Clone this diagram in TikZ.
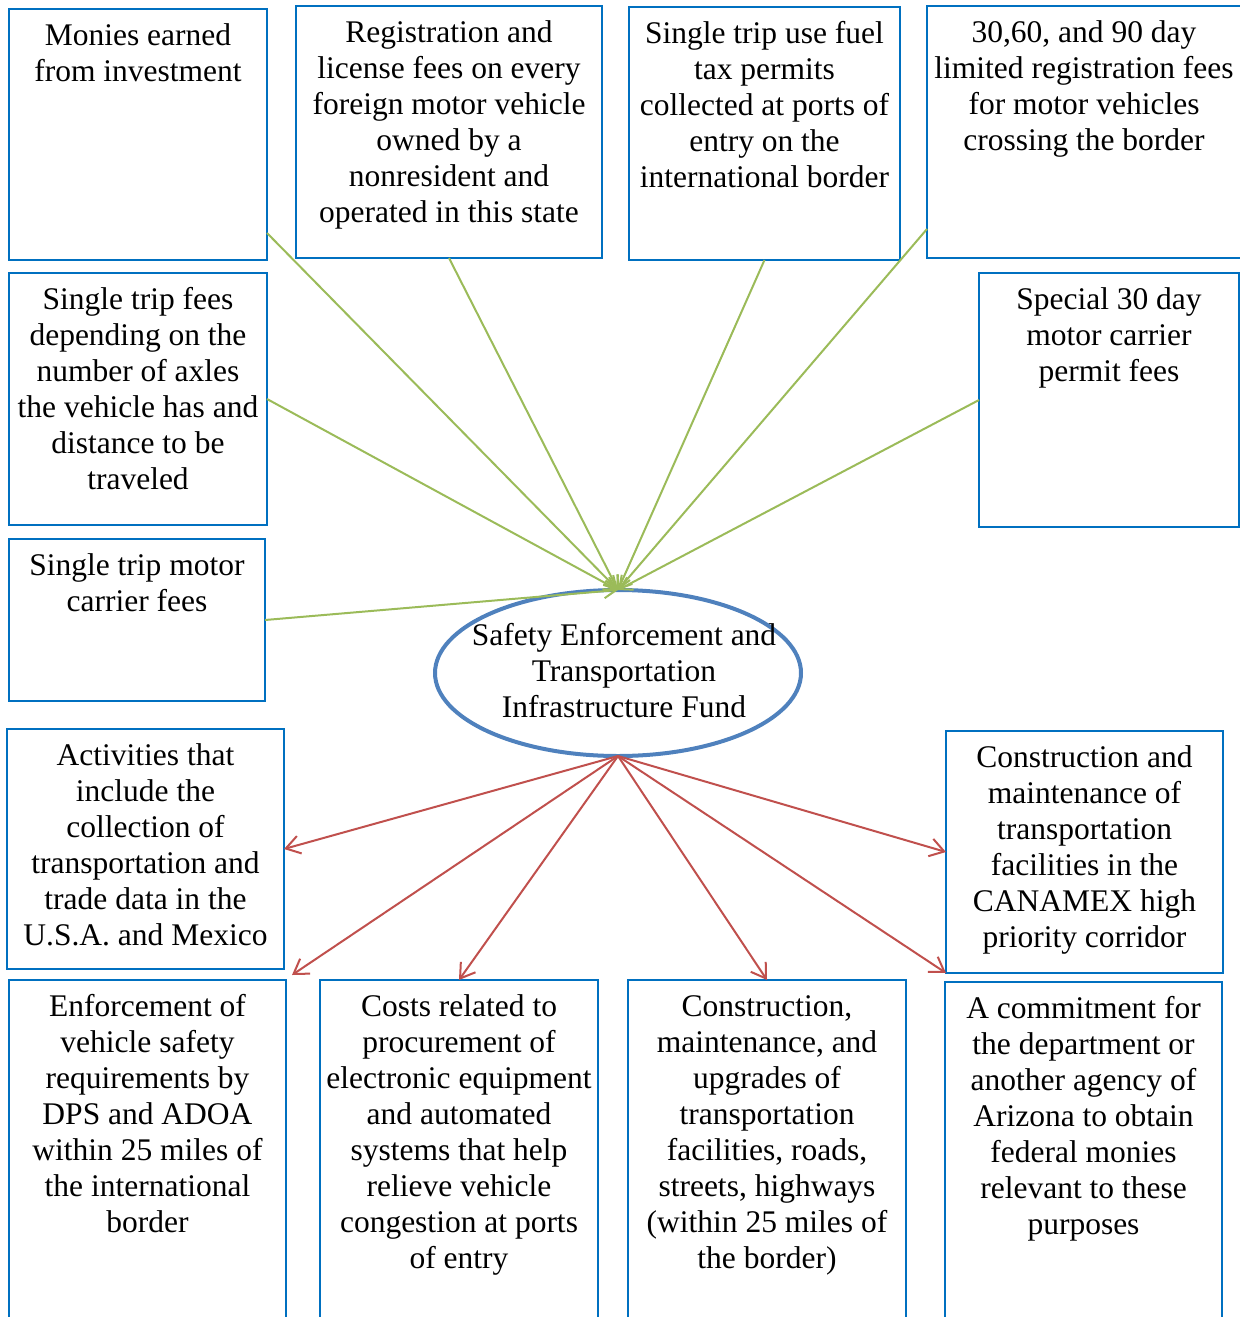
\documentclass[tikz,border=0pt]{standalone}
\usepackage{fontspec}
\setmainfont{Liberation Serif}
\usepackage{tikz}
\usetikzlibrary{shapes.geometric,arrows.meta}

\definecolor{boxblue}{HTML}{0070C0}
\definecolor{ellblue}{HTML}{4F81BD}
\definecolor{ingreen}{HTML}{9BBB59}
\definecolor{outred}{HTML}{C0504D}

\newcommand{\boxtext}[3]{\parbox[t][#2][t]{#1}{\centering\rule{0pt}{18pt}#3}}

\begin{document}
\begin{tikzpicture}[x=0.5pt,y=-0.5pt,font=\fontsize{15.75}{18}\selectfont,
    fundbox/.style={draw=boxblue,line width=1.1pt,inner sep=0pt,outer sep=0pt,anchor=north west},
    fundell/.style={ellipse,draw=ellblue,line width=2pt,inner sep=0pt,outer sep=0pt,minimum width=183pt,minimum height=83pt},
    inline/.style={draw=ingreen,line width=1pt,-{Straight Barb[length=6pt,width=7pt]}},
    outline/.style={draw=outred,line width=1pt,-{Straight Barb[length=7pt,width=9pt]}}]
    \useasboundingbox (0,0) rectangle (1240,1317);

    % sources of money
    \node[fundbox] (s1) at (9,9) {\boxtext{129pt}{125.5pt}{Monies earned\\from investment}};
    \node[fundbox] (s2) at (296,6) {\boxtext{153pt}{126pt}{Registration and\\license fees on every\\foreign motor vehicle\\owned by a\\nonresident and\\operated in this state}};
    \node[fundbox] (s3) at (629,7) {\boxtext{135.5pt}{126.5pt}{Single trip use fuel\\tax permits\\collected at ports of\\entry on the\\international border}};
    \node[fundbox] (s4) at (927,6) {\boxtext{157pt}{126pt}{30,60, and 90 day\\limited registration fees\\for motor vehicles\\crossing the border}};
    \node[fundbox] (s5) at (9,273) {\boxtext{129pt}{126pt}{Single trip fees\\depending on the\\number of axles\\the vehicle has and\\distance to be\\traveled}};
    \node[fundbox] (s6) at (979,273) {\boxtext{130pt}{127pt}{Special 30 day\\motor carrier\\permit fees}};
    \node[fundbox] (s7) at (9,539) {\boxtext{128pt}{81pt}{Single trip motor\\carrier fees}};

    % the fund
    \node[fundell] (fund) at (618,673) {};
    \node[align=center,xshift=3pt,yshift=1pt] (fundtext) at (fund.center) {Safety Enforcement and\\Transportation\\Infrastructure Fund};

    % uses of money
    \node[fundbox] (a1) at (7,729) {\boxtext{138.5pt}{120pt}{Activities that\\include the\\collection of\\transportation and\\trade data in the\\U.S.A. and Mexico}};
    \node[fundbox] (a2) at (946,731) {\boxtext{138.5pt}{121pt}{Construction and\\maintenance of\\transportation\\facilities in the\\CANAMEX high\\priority corridor}};
    \node[fundbox] (b1) at (9,980) {\boxtext{138.5pt}{180pt}{Enforcement of\\vehicle safety\\requirements by\\DPS and ADOA\\within 25 miles of\\the international\\border}};
    \node[fundbox] (b2) at (320,980) {\boxtext{139pt}{180pt}{Costs related to\\procurement of\\electronic equipment\\and automated\\systems that help\\relieve vehicle\\congestion at ports\\of entry}};
    \node[fundbox] (b3) at (628,980) {\boxtext{139pt}{180pt}{Construction,\\maintenance, and\\upgrades of\\transportation\\facilities, roads,\\streets, highways\\(within 25 miles of\\the border)}};
    \node[fundbox] (b4) at (945,982) {\boxtext{138.5pt}{180pt}{A commitment for\\the department or\\another agency of\\Arizona to obtain\\federal monies\\relevant to these\\purposes}};

    % money in
    \draw[inline] ([yshift=13.5pt]s1.south east) -- (fund.north);
    \draw[inline] (s2.south) -- (fund.north);
    \draw[inline] (s3.south) -- (fund.north);
    \draw[inline] ([yshift=14.5pt]s4.south west) -- (fund.north);
    \draw[inline] (s5.east) -- (fund.north);
    \draw[inline] (s6.west) -- (fund.north);
    \draw[inline] (s7.east) -- (fund.north);

    % money out
    \draw[outline] (fund.south) -- (a1.east);
    \draw[outline] (fund.south) -- (a2.west);
    \draw[outline] (fund.south) -- ([xshift=3pt,yshift=2.5pt]b1.north east);
    \draw[outline] (fund.south) -- (b2.north);
    \draw[outline] (fund.south) -- (b3.north);
    \draw[outline] (fund.south) -- (a2.south west);
\end{tikzpicture}
\end{document}
